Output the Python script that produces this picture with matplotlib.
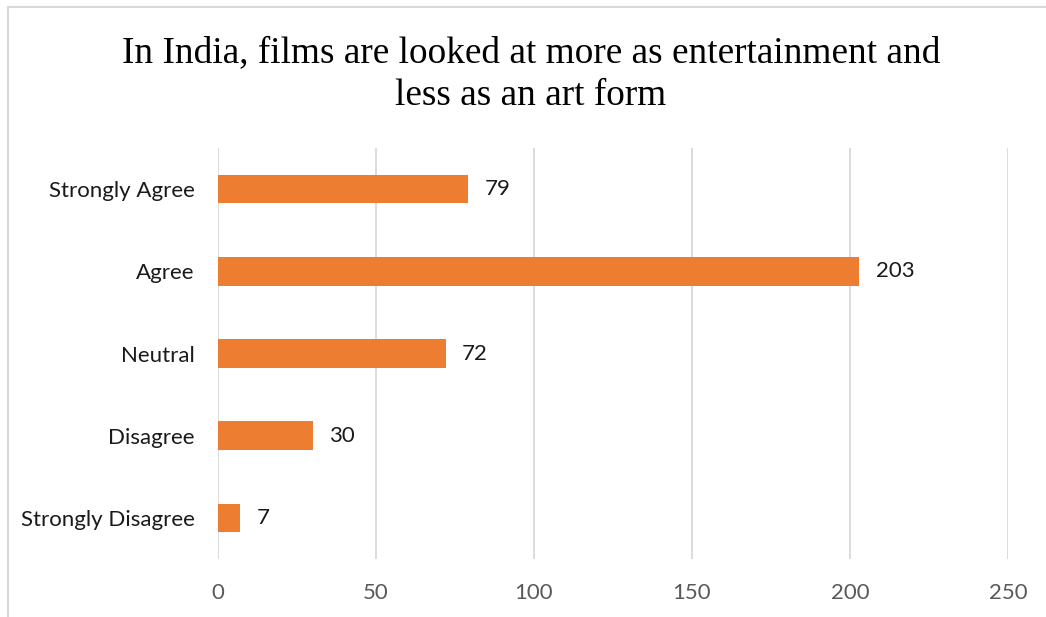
import matplotlib
matplotlib.use("Agg")
import matplotlib.pyplot as plt
from matplotlib.lines import Line2D

# Survey responses (top to bottom as shown)
categories = ["Strongly Agree", "Agree", "Neutral", "Disagree", "Strongly Disagree"]
counts = [79, 203, 72, 30, 7]
x_ticks = [0, 50, 100, 150, 200, 250]
title_lines = ["In India, films are looked at more as entertainment and",
               "less as an art form"]

BAR_COLOR = "#ED7D31"
GRID_COLOR = "#D9D9D9"
LABEL_FONT = "Lato"
TITLE_FONT = "Liberation Serif"

W, H = 1046, 617
fig = plt.figure(figsize=(W / 100, H / 100), dpi=100)
fig.patch.set_facecolor("white")

ax = fig.add_axes([218 / W, 1 - 559 / H, (1008 - 218) / W, (559 - 148) / H])

n = len(categories)
ypos = list(range(n - 1, -1, -1))
ax.barh(ypos, counts, height=0.35, color=BAR_COLOR, zorder=3)

for y, v in zip(ypos, counts):
    ax.annotate(str(v), xy=(v, y), xytext=(12, 0), textcoords="offset points",
                va="center", ha="left", fontsize=16, family=LABEL_FONT,
                color="#1a1a1a")

ax.set_xlim(x_ticks[0], x_ticks[-1])
ax.set_ylim(-0.5, n - 0.5)
ax.set_xticks(x_ticks)
ax.set_xticklabels([str(t) for t in x_ticks])
ax.set_yticks(ypos)
ax.set_yticklabels(categories)

for t in ax.get_xticklabels():
    t.set_fontfamily(LABEL_FONT)
    t.set_fontsize(16)
    t.set_color("#595959")
for t in ax.get_yticklabels():
    t.set_fontfamily(LABEL_FONT)
    t.set_fontsize(16)
    t.set_color("#1a1a1a")

ax.tick_params(axis="x", length=0, pad=17)
ax.tick_params(axis="y", length=0, pad=17)
ax.grid(axis="x", color=GRID_COLOR, linewidth=1.3, zorder=0)
ax.set_axisbelow(True)
for s in ax.spines.values():
    s.set_visible(False)

# Chart-area border (left and top edges)
fig.add_artist(Line2D([8 / W, 8 / W], [0, 1 - 7 / H], color=GRID_COLOR,
                      linewidth=1.5, transform=fig.transFigure))
fig.add_artist(Line2D([8 / W, 1], [1 - 7 / H, 1 - 7 / H], color=GRID_COLOR,
                      linewidth=1.5, transform=fig.transFigure))

# Title, two centred lines
fig.text(531 / W, 1 - 62 / H, title_lines[0], ha="center", va="baseline",
         fontsize=26.8, family=TITLE_FONT, color="black")
fig.text(531 / W, 1 - 105 / H, title_lines[1], ha="center", va="baseline",
         fontsize=26.8, family=TITLE_FONT, color="black")

fig.savefig("out.png", dpi=100, facecolor="white")
